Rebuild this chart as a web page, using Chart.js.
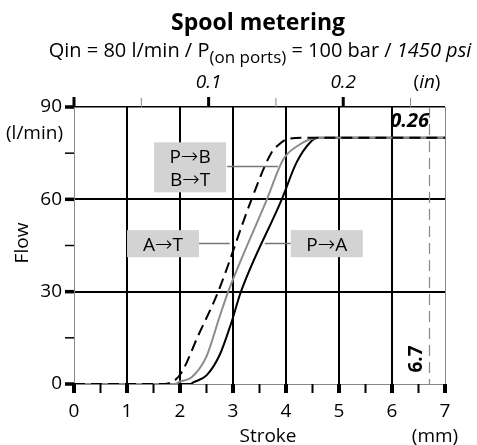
<!DOCTYPE html>
<html lang="en">
<head>
<meta charset="UTF-8">
<title>Spool metering</title>
<style>
  html, body { margin:0; padding:0; background:#fff; }
  #wrap { width:477px; height:445px; }
</style>
</head>
<body>
<div id="wrap"><canvas id="chart" width="477" height="445"></canvas></div>
<script src="https://cdn.jsdelivr.net/npm/chart.js"></script>
<script>
// curves: stroke (mm) -> flow (l/min)
const strokeAT = [0, 1.7, 2.0, 2.35, 2.72, 3.35, 3.72, 3.88, 4.05, 4.4, 7];
const flowAT   = [0, 0, 3, 16, 30, 60, 75, 78, 79.7, 80, 80];
const strokePB = [0, 1.9, 2.0, 2.22, 2.5, 2.75, 2.91, 3.64, 3.95, 4.23, 4.52, 4.75, 7];
const flowPB   = [0, 0, 0.8, 2.2, 9, 22, 30, 60, 73, 77.5, 79.8, 80, 80];
const strokePA = [0, 2.2, 2.25, 2.5, 2.75, 2.97, 3.15, 3.92, 4.2, 4.45, 4.6, 7];
const flowPA   = [0, 0, 0.5, 2.8, 9.5, 20, 30, 60, 72, 78.4, 80, 80];

// axes
const strokeTicks = [0, 1, 2, 3, 4, 5, 6, 7];
const flowTicks = [0, 30, 60, 90];
const flowMinor = [15, 45, 75];
const inchTicks = [0, 0.05, 0.1, 0.15, 0.2, 0.25];
const inchLabels = ['', '', '0.1', '', '0.2', ''];
const maxStroke = 6.7;      // mm
const maxStrokeIn = '0.26'; // in

// label boxes: [text lines, centre stroke, centre flow, leader from, leader to, leader flow]
const boxes = [
  [[['P', 'B'], ['B', 'T']], 2.19, 70.4, 2.89, 3.85, 70.8],
  [[['A', 'T']], 1.68, 45.6, 2.34, 2.94, 45.8],
  [[['P', 'A']], 4.77, 45.6, 4.09, 3.6, 45.8]
];

const FONT = '"Open Sans", "DejaVu Sans", sans-serif';
const ARROW = '200 21px "DejaVu Sans", sans-serif';
const pts = (xs, ys) => xs.map((x, i) => ({ x: x, y: ys[i] }));

function txt(ctx, s, x, y, font, align, base) {
  ctx.font = font;
  ctx.textAlign = align || 'center';
  ctx.textBaseline = base || 'alphabetic';
  ctx.fillStyle = '#000';
  ctx.fillText(s, x, y);
}

// draws several text runs on one line, centred on cx
function runs(ctx, parts, cx, y) {
  let w = 0;
  parts.forEach(p => { ctx.font = p.f; w += ctx.measureText(p.t).width; });
  let x = cx - w / 2;
  parts.forEach(p => {
    txt(ctx, p.t, x, y + (p.dy || 0), p.f, 'left');
    ctx.font = p.f;
    x += ctx.measureText(p.t).width;
  });
}

const extras = {
  id: 'extras',
  beforeDatasetsDraw(chart) {
    const { ctx, chartArea: a, scales: { x } } = chart;
    const px = Math.round(x.getPixelForValue(maxStroke)) + 0.5;
    ctx.save();
    ctx.strokeStyle = '#888';
    ctx.lineWidth = 1.2;
    ctx.setLineDash([11, 6]);
    ctx.beginPath();
    ctx.moveTo(px, a.top);
    ctx.lineTo(px, a.bottom);
    ctx.stroke();
    ctx.restore();
  },
  afterDraw(chart) {
    const { ctx, chartArea: a, scales: { x, y } } = chart;
    ctx.save();

    // title
    txt(ctx, 'Spool metering', 258, 30, 'bold 23px ' + FONT);
    runs(ctx, [
      { t: 'Qin = 80 l/min / P', f: '20px ' + FONT },
      { t: '(on ports)', f: '17px ' + FONT, dy: 6 },
      { t: ' = 100 bar / ', f: '20px ' + FONT },
      { t: '1450 psi', f: 'italic 20px ' + FONT }
    ], 260, 57);

    // bottom ticks
    ctx.strokeStyle = '#000';
    for (let v = 0; v <= 7; v += 0.5) {
      const p = x.getPixelForValue(v);
      ctx.lineWidth = Number.isInteger(v) ? 4 : 2;
      ctx.beginPath();
      ctx.moveTo(p, a.bottom);
      ctx.lineTo(p, a.bottom + 9);
      ctx.stroke();
    }
    // left ticks
    flowTicks.concat(flowMinor).forEach(v => {
      const p = y.getPixelForValue(v);
      ctx.lineWidth = v % 30 === 0 ? 3.5 : 1.5;
      ctx.beginPath();
      ctx.moveTo(a.left - 9, p);
      ctx.lineTo(a.left, p);
      ctx.stroke();
    });
    // top inch axis
    inchTicks.forEach((v, i) => {
      const p = x.getPixelForValue(v * 25.4);
      const major = i % 2 === 0;
      ctx.strokeStyle = major ? '#000' : '#888';
      ctx.lineWidth = major ? 3 : 1;
      ctx.beginPath();
      ctx.moveTo(p, a.top - (major ? 10 : 9));
      ctx.lineTo(p, a.top);
      ctx.stroke();
      if (inchLabels[i]) txt(ctx, inchLabels[i], p, 88, 'italic 19px ' + FONT);
    });
    runs(ctx, [
      { t: '(', f: '19px ' + FONT },
      { t: 'in', f: 'italic 19px ' + FONT },
      { t: ')', f: '19px ' + FONT }
    ], 427, 88);

    // axis titles
    txt(ctx, '(l/min)', 63, 139, '19px ' + FONT, 'right');
    txt(ctx, 'Stroke', 268, 442, '19px ' + FONT);
    txt(ctx, '(mm)', 435, 442, '19px ' + FONT);
    ctx.save();
    ctx.translate(23, 243);
    ctx.rotate(-Math.PI / 2);
    txt(ctx, 'Flow', 0, 0, '19px ' + FONT, 'center', 'middle');
    ctx.restore();

    // full stroke marks
    const mx = x.getPixelForValue(maxStroke);
    txt(ctx, maxStrokeIn, mx, 127, 'italic bold 20px ' + FONT, 'right');
    ctx.save();
    ctx.translate(mx - 13, 359);
    ctx.rotate(-Math.PI / 2);
    txt(ctx, String(maxStroke), 0, 0, 'bold 19px ' + FONT, 'center', 'middle');
    ctx.restore();

    // label boxes with leaders
    boxes.forEach(b => {
      const [lines, cxv, cyv, l0, l1, ly] = b;
      const ly2 = Math.round(y.getPixelForValue(ly)) + 0.5;
      ctx.strokeStyle = '#777';
      ctx.lineWidth = 1.5;
      ctx.beginPath();
      ctx.moveTo(x.getPixelForValue(l0), ly2);
      ctx.lineTo(x.getPixelForValue(l1), ly2);
      ctx.stroke();
      const cx = x.getPixelForValue(cxv), cy = y.getPixelForValue(cyv);
      const h = lines.length * 23 + 4, w = 72;
      ctx.fillStyle = '#d3d3d3';
      ctx.fillRect(cx - w / 2, cy - h / 2, w, h);
      lines.forEach((s, i) => {
        const by = cy - (lines.length - 1) * 11.5 + i * 23 + 7;
        runs(ctx, [
          { t: s[0], f: '19px ' + FONT },
          { t: '\u2192', f: ARROW, dy: 0 },
          { t: s[1], f: '19px ' + FONT }
        ], cx, by);
      });
    });
    ctx.restore();
  }
};

const ctx = document.getElementById('chart').getContext('2d');
new Chart(ctx, {
  type: 'line',
  data: {
    datasets: [
      { label: 'A\u2192T', data: pts(strokeAT, flowAT), borderColor: '#000', borderWidth: 2, borderDash: [11, 6] },
      { label: 'P\u2192B B\u2192T', data: pts(strokePB, flowPB), borderColor: '#8c8c8c', borderWidth: 2 },
      { label: 'P\u2192A', data: pts(strokePA, flowPA), borderColor: '#000', borderWidth: 2 }
    ]
  },
  options: {
    responsive: false,
    animation: false,
    devicePixelRatio: 1,
    layout: { padding: { top: 107, right: 32, left: 0, bottom: 0 } },
    elements: {
      point: { radius: 0 },
      line: { cubicInterpolationMode: 'monotone', fill: false }
    },
    plugins: { legend: { display: false }, tooltip: { enabled: false } },
    scales: {
      x: {
        type: 'linear', min: 0, max: 7,
        afterBuildTicks: s => { s.ticks = strokeTicks.map(v => ({ value: v })); },
        afterFit: s => { s.height = 61; },
        ticks: { color: '#000', padding: 16, maxRotation: 0, autoSkip: false, font: { family: FONT, size: 19 } },
        grid: {
          drawTicks: false,
          color: c => (c.tick.value === 0 ? 'rgba(0,0,0,0)' : c.tick.value === 7 ? '#888' : '#000'),
          lineWidth: c => (c.tick.value === 7 ? 1 : 2)
        },
        border: { color: '#888', width: 1 }
      },
      y: {
        min: 0, max: 90,
        afterBuildTicks: s => { s.ticks = flowTicks.map(v => ({ value: v })); },
        afterFit: s => { s.width = 74; },
        ticks: { color: '#000', padding: 12, font: { family: FONT, size: 19 } },
        grid: {
          drawTicks: false,
          color: c => (c.tick.value === 0 ? 'rgba(0,0,0,0)' : '#000'),
          lineWidth: c => (c.tick.value === 90 ? 1.5 : 2)
        },
        border: { color: '#888', width: 1 }
      }
    }
  },
  plugins: [extras]
});
</script>
</body>
</html>
